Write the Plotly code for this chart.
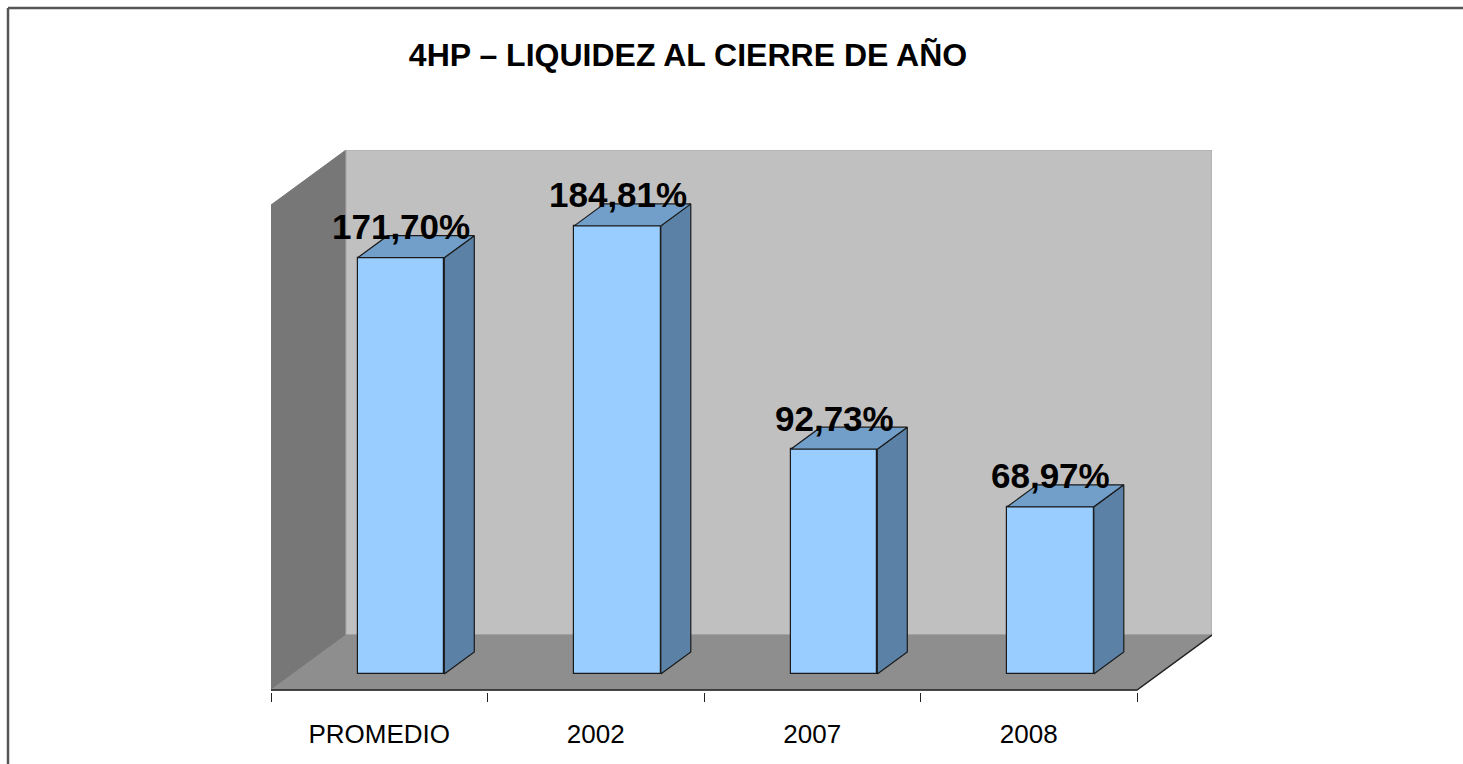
import plotly.graph_objects as go

# Chart data
categories = ["PROMEDIO", "2002", "2007", "2008"]
liquidez = [171.70, 184.81, 92.73, 68.97]
axis_max = 200

title_text = "4HP – LIQUIDEZ AL CIERRE DE AÑO"

# Canvas geometry (pixels)
W, H = 1463, 764
PL, PR, PT, PB = 271, 1212, 150, 692
PX_PER_CAT = 216.5
PX_PER_VAL = 2.425

# 3D projection: full depth moves a point 75 px right and 55 px up
DXU = 75 / PX_PER_CAT
DYU = 55 / PX_PER_VAL
BAR_D0, BAR_D1 = 0.29, 0.69   # bar depth span inside the box
BAR_W = 0.4

x_lo = -0.5
x_hi = x_lo + (PR - PL) / PX_PER_CAT
y_lo = -(PB - 690) / PX_PER_VAL
y_hi = (690 - PT) / PX_PER_VAL

FONT = "Liberation Sans, Arial, sans-serif"


def proj(c, v, d):
    return c + d * DXU, v + d * DYU


def path_of(points):
    pts = [proj(*p) for p in points]
    return "M " + " L ".join(f"{x},{y}" for x, y in pts) + " Z"


fig = go.Figure()

n = len(categories)
c0, c1 = -0.5, n - 0.5

# Walls and floor, kept beneath the bars
walls = [
    ([(c0, 0, 0), (c0, 0, 1), (c0, axis_max, 1), (c0, axis_max, 0)], "#777777", "#777777"),
    ([(c0, 0, 1), (c1, 0, 1), (c1, axis_max, 1), (c0, axis_max, 1)], "#C0C0C0", "#A8A8A8"),
    ([(c0, 0, 0), (c1, 0, 0), (c1, 0, 1), (c0, 0, 1)], "#8E8E8E", "#8E8E8E"),
]
for pts, fill, edge in walls:
    fig.add_shape(type="path", xref="x", yref="y", path=path_of(pts), fillcolor=fill,
                  line=dict(color=edge, width=1), layer="below")

# Front floor edge and right floor edge
ex, ey = zip(*[proj(c0, 0, 0), proj(c1, 0, 0), proj(c1, 0, 1)])
fig.add_trace(go.Scatter(x=ex, y=ey, mode="lines", line=dict(color="#222222", width=1.5),
                         hoverinfo="skip", showlegend=False))

# Bars: front faces as a bar trace, side and top faces as projected polygons
bx = [i + BAR_D0 * DXU for i in range(n)]
base = BAR_D0 * DYU
fig.add_trace(go.Bar(
    x=bx, y=liquidez, base=[base] * n, width=BAR_W,
    marker=dict(color="#99CCFF", line=dict(color="#1A1A1A", width=1.2)),
    hoverinfo="skip", showlegend=False,
))


def face(points, fill):
    pts = [proj(*p) for p in points]
    xs, ys = zip(*(pts + [pts[0]]))
    fig.add_trace(go.Scatter(
        x=xs, y=ys, mode="lines", fill="toself", fillcolor=fill,
        line=dict(color="#1A1A1A", width=1.2),
        hoverinfo="skip", showlegend=False,
    ))


for i, v in enumerate(liquidez):
    l, r = i - BAR_W / 2, i + BAR_W / 2
    face([(r, 0, BAR_D0), (r, 0, BAR_D1), (r, v, BAR_D1), (r, v, BAR_D0)], "#5B82A6")
    face([(l, v, BAR_D0), (r, v, BAR_D0), (r, v, BAR_D1), (l, v, BAR_D1)], "#729FC9")

# Value labels above each bar
for i, v in enumerate(liquidez):
    fig.add_annotation(
        x=bx[i], y=base + v, yshift=31, text=f"{v:.2f}".replace(".", ",") + "%",
        showarrow=False, xanchor="center", yanchor="middle",
        font=dict(family=FONT, size=35, color="black", weight="bold"),
    )


# Frame lines along the top and left edges
def px_to_paper(px, py):
    return (px - PL) / (PR - PL), (PB - py) / (PB - PT)


fx0, fy0 = px_to_paper(8, 8)
fx1, _ = px_to_paper(W + 5, 8)
_, fy1 = px_to_paper(8, H + 5)
fig.add_shape(type="line", xref="paper", yref="paper", x0=fx0, y0=fy0, x1=fx1, y1=fy0,
              line=dict(color="#555555", width=2.5))
fig.add_shape(type="line", xref="paper", yref="paper", x0=fx0, y0=fy0, x1=fx0, y1=fy1,
              line=dict(color="#555555", width=2.5))

fig.update_layout(
    width=W, height=H,
    margin=dict(l=PL, r=W - PR, t=PT, b=H - PB, pad=0),
    paper_bgcolor="white", plot_bgcolor="white",
    title=dict(text=title_text, x=688 / W, xanchor="center", y=1 - 55 / H, yanchor="middle",
               font=dict(family=FONT, size=32, color="black", weight="bold")),
    xaxis=dict(
        range=[x_lo, x_hi], tickmode="array", tickvals=list(range(n)), ticktext=categories,
        ticks="", showgrid=False, zeroline=False, showline=False,
        tickfont=dict(family=FONT, size=26, color="black"), ticklabelstandoff=24,
        minor=dict(tickmode="array", tickvals=[k - 0.5 for k in range(n + 1)],
                   ticks="outside", ticklen=9, tickwidth=1.2, tickcolor="#222222", showgrid=False),
    ),
    yaxis=dict(range=[y_lo, y_hi], visible=False, showgrid=False, zeroline=False),
    bargap=0,
)

fig.write_html("out.html")
